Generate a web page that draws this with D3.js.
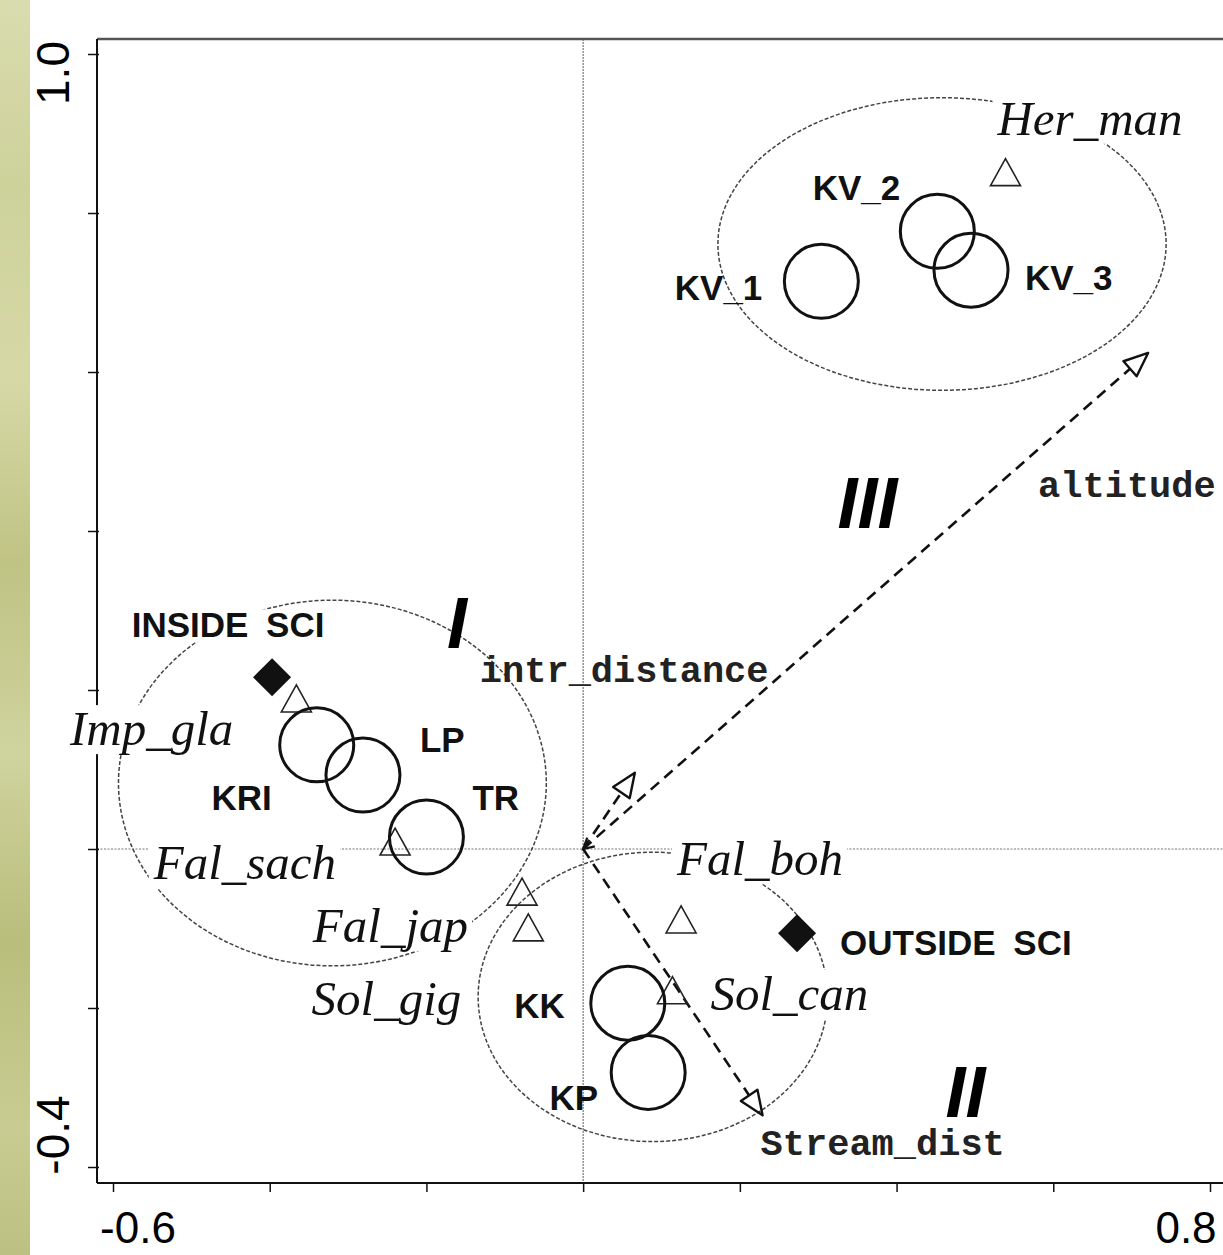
<!DOCTYPE html>
<html><head><meta charset="utf-8">
<script src="https://cdn.jsdelivr.net/npm/d3@7"></script>
<style>body{margin:0;background:#fff}svg{display:block}</style>
</head><body><svg id="c" width="1223" height="1255"></svg>
<script>
// ---- data ----
const sites = ["KV_1","KV_2","KV_3","KRI","LP","TR","KK","KP"];
const siteX = [0.304, 0.452, 0.495, -0.340, -0.281, -0.200, 0.057, 0.083];
const siteY = [0.714, 0.777, 0.728, 0.131, 0.093, 0.015, -0.194, -0.281];

const species = ["Her_man","Imp_gla","Fal_sach","Fal_jap","Sol_gig","Fal_boh","Sol_can"];
const speciesX = [0.539, -0.366, -0.240, -0.078, -0.070, 0.125, 0.114];
const speciesY = [0.848, 0.186, 0.006, -0.057, -0.102, -0.092, -0.181];

const factors = ["INSIDE SCI","OUTSIDE SCI"];
const factorX = [-0.397, 0.273];
const factorY = [0.216, -0.106];

const envVars = ["altitude","intr_distance","Stream_dist"];
const envX = [0.721, 0.066, 0.229];
const envY = [0.624, 0.096, -0.335];

const groups = ["III","I","II"];
const groupCX = [0.458, -0.320, 0.089];
const groupCY = [0.761, 0.083, -0.186];
const groupRX = [0.286, 0.273, 0.223];
const groupRY = [0.184, 0.230, 0.182];
const groupLabelX = [0.363, -0.161, 0.488];
const groupLabelY = [0.404, 0.253, -0.337];

const xTicks = [-0.6,-0.4,-0.2,0,0.2,0.4,0.6,0.8];
const yTicks = [-0.4,-0.2,0,0.2,0.4,0.6,0.8,1.0];
const xTickLabels = ["-0.6","0.8"];
const yTickLabels = ["1.0","-0.4"];

// ---- layout (label offsets in px) ----
const siteLab = [[-59,19,"end"],[-37,-31,"end"],[54,20,"start"],[-45,65,"end"],[57,-23,"start"],[46,-27,"start"],[-63,15,"end"],[-50,38,"end"]];
const specLab = [[-8,-40,"start"],[-63,44,"end"],[-59,35,"end"],[-54,48,"end"],[-67,85,"end"],[-4,-47,"start"],[38,17,"start"]];
const factLab = [[-44,-40,"middle"],[43,22,"start"]];
const envLab = [[-110,144],[-155,-91],[-2,40]];

const svg = d3.select("#c");
const x = d3.scaleLinear().domain([-0.6,0.8]).range([113,1210]);
const y = d3.scaleLinear().domain([-0.4,1.0]).range([1167,54]);
const X0 = 97, YT = 39, YB = 1183, XR = 1223;

// left olive strip
const defs = svg.append("defs");
const g1 = defs.append("linearGradient").attr("id","olive").attr("x1",0).attr("y1",0).attr("x2",0).attr("y2",1);
[["0","#d9dcae"],["0.15","#cdd19a"],["0.3","#d6d9a6"],["0.45","#bfc384"],["0.6","#cfd39e"],["0.75","#b9be7c"],["0.9","#c8cc92"],["1","#bcc082"]]
 .forEach(s=>g1.append("stop").attr("offset",s[0]).attr("stop-color",s[1]));
svg.append("rect").attr("x",0).attr("y",0).attr("width",30).attr("height",1255).attr("fill","url(#olive)");

// zero lines
svg.append("line").attr("x1",x(0)).attr("x2",x(0)).attr("y1",YT).attr("y2",YB)
  .attr("stroke","#777").attr("stroke-width",1.2).attr("stroke-dasharray","2,1");
svg.append("line").attr("x1",X0).attr("x2",XR).attr("y1",y(0)).attr("y2",y(0))
  .attr("stroke","#777").attr("stroke-width",1.2).attr("stroke-dasharray","2,1.5");

// frame & axes
svg.append("line").attr("x1",X0).attr("x2",XR).attr("y1",YT).attr("y2",YT).attr("stroke","#555").attr("stroke-width",2.5);
svg.append("line").attr("x1",X0).attr("x2",X0).attr("y1",YT).attr("y2",YB).attr("stroke","#111").attr("stroke-width",2);
svg.append("line").attr("x1",X0).attr("x2",XR).attr("y1",YB).attr("y2",YB).attr("stroke","#111").attr("stroke-width",2);

const ax = svg.append("g").attr("transform",`translate(${X0+2},0)`)
  .call(d3.axisLeft(y).tickValues(yTicks).tickSize(11).tickFormat(""));
ax.select(".domain").remove();
ax.selectAll("line").attr("stroke","#111").attr("stroke-width",1.5);
const bx = svg.append("g").attr("transform",`translate(0,${YB})`)
  .call(d3.axisBottom(x).tickValues(xTicks).tickSize(9).tickFormat(""));
bx.select(".domain").remove();
bx.selectAll("line").attr("stroke","#111").attr("stroke-width",1.5);

const tf = "'Liberation Sans', Arial, sans-serif";
svg.append("text").attr("transform",`translate(69,${y(1.0)+19}) rotate(-90)`).attr("text-anchor","middle")
  .attr("font-family",tf).attr("font-size",46).text(yTickLabels[0]);
svg.append("text").attr("transform",`translate(69,${y(-0.4)-32}) rotate(-90)`).attr("text-anchor","middle")
  .attr("font-family",tf).attr("font-size",46).text(yTickLabels[1]);
svg.append("text").attr("x",x(-0.6)+25).attr("y",1243).attr("text-anchor","middle")
  .attr("font-family",tf).attr("font-size",44).text(xTickLabels[0]);
svg.append("text").attr("x",x(0.8)-24).attr("y",1243).attr("text-anchor","middle")
  .attr("font-family",tf).attr("font-size",44).text(xTickLabels[1]);

// group ellipses
const kx = x(1)-x(0), ky = y(0)-y(1);
svg.selectAll(".ell").data(groups).enter().append("ellipse")
  .attr("cx",(d,i)=>x(groupCX[i])).attr("cy",(d,i)=>y(groupCY[i]))
  .attr("rx",(d,i)=>groupRX[i]*kx).attr("ry",(d,i)=>groupRY[i]*ky)
  .attr("fill","none").attr("stroke","#444").attr("stroke-width",1.5).attr("stroke-dasharray","4,2");

// labels with white background
function bgText(sel){
  sel.each(function(){
    const bb=this.getBBox();
    d3.select(this.parentNode).insert("rect",()=>this)
      .attr("x",bb.x-4).attr("y",bb.y+4).attr("width",bb.width+8).attr("height",bb.height-6).attr("fill","#fff");
  });
}
const specG = svg.append("g");
species.forEach((s,i)=>{
  const t = specG.append("text").attr("x",x(speciesX[i])+specLab[i][0]).attr("y",y(speciesY[i])+specLab[i][1])
    .attr("text-anchor",specLab[i][2]).attr("font-family","'Liberation Serif','Times New Roman',serif")
    .attr("font-style","italic").attr("font-size",49).attr("fill","#111").text(s);
  bgText(t);
});
const factG = svg.append("g");
factors.forEach((s,i)=>{
  const t = factG.append("text").attr("x",x(factorX[i])+factLab[i][0]).attr("y",y(factorY[i])+factLab[i][1])
    .attr("text-anchor",factLab[i][2]).attr("font-family",tf).attr("font-weight","bold")
    .attr("font-size",35).attr("word-spacing",8).attr("fill","#111").text(s);
  bgText(t);
});

// env arrows
const ox = x(0), oy = y(0);
envVars.forEach((v,i)=>{
  const ex = x(envX[i]), ey = y(envY[i]);
  const ang = Math.atan2(ey-oy, ex-ox);
  const L = 24, W = 10;
  const bxm = ex - L*Math.cos(ang), bym = ey - L*Math.sin(ang);
  svg.append("line").attr("x1",ox).attr("y1",oy).attr("x2",bxm).attr("y2",bym)
    .attr("stroke","#111").attr("stroke-width",2.6).attr("stroke-dasharray","11,7");
  const p1 = [bxm + W*Math.sin(ang), bym - W*Math.cos(ang)];
  const p2 = [bxm - W*Math.sin(ang), bym + W*Math.cos(ang)];
  svg.append("path").attr("d",`M${ex},${ey}L${p1[0]},${p1[1]}L${p2[0]},${p2[1]}Z`)
    .attr("fill","none").attr("stroke","#111").attr("stroke-width",2.4).attr("stroke-linejoin","round");
  svg.append("text").attr("x",ex+envLab[i][0]).attr("y",ey+envLab[i][1])
    .attr("font-family","'Liberation Mono','Courier New',monospace").attr("font-weight","bold")
    .attr("font-size",37).attr("fill","#222").text(v);
});
// small chevron at origin
{
  const ang = Math.atan2(y(envY[0])-oy, x(envX[0])-ox);
  const c = 12;
  const a1 = ang+0.5, a2 = ang-0.5;
  svg.append("path").attr("d",`M${ox+c*Math.cos(a1)},${oy+c*Math.sin(a1)}L${ox},${oy}L${ox+c*Math.cos(a2)},${oy+c*Math.sin(a2)}`)
    .attr("fill","none").attr("stroke","#111").attr("stroke-width",2.2);
}

// species triangles
const tw = 15, th = 27;
svg.selectAll(".tri").data(species).enter().append("path")
  .attr("d",(d,i)=>{const cx=x(speciesX[i]), cy=y(speciesY[i]);
    return `M${cx},${cy-th*0.6}L${cx+tw},${cy+th*0.4}L${cx-tw},${cy+th*0.4}Z`;})
  .attr("fill","none").attr("stroke","#222").attr("stroke-width",1.6);

// factor diamonds
svg.selectAll(".dia").data(factors).enter().append("path")
  .attr("d",(d,i)=>{const cx=x(factorX[i]), cy=y(factorY[i]), r=19;
    return `M${cx},${cy-r}L${cx+r},${cy}L${cx},${cy+r}L${cx-r},${cy}Z`;})
  .attr("fill","#111");

// site circles
svg.selectAll(".site").data(sites).enter().append("circle")
  .attr("cx",(d,i)=>x(siteX[i])).attr("cy",(d,i)=>y(siteY[i])).attr("r",37)
  .attr("fill","none").attr("stroke","#111").attr("stroke-width",3);
svg.selectAll(".slab").data(sites).enter().append("text")
  .attr("x",(d,i)=>x(siteX[i])+siteLab[i][0]).attr("y",(d,i)=>y(siteY[i])+siteLab[i][1])
  .attr("text-anchor",(d,i)=>siteLab[i][2]).attr("font-family",tf).attr("font-weight","bold")
  .attr("font-size",35).attr("fill","#111").text(d=>d);

// group numerals
svg.selectAll(".gl").data(groups).enter().append("text")
  .attr("x",(d,i)=>x(groupLabelX[i])).attr("y",(d,i)=>y(groupLabelY[i]))
  .attr("text-anchor","middle").attr("font-family",tf).attr("font-weight","bold").attr("font-style","italic")
  .attr("font-size",72).attr("fill","#000").text(d=>d);
</script></body></html>
